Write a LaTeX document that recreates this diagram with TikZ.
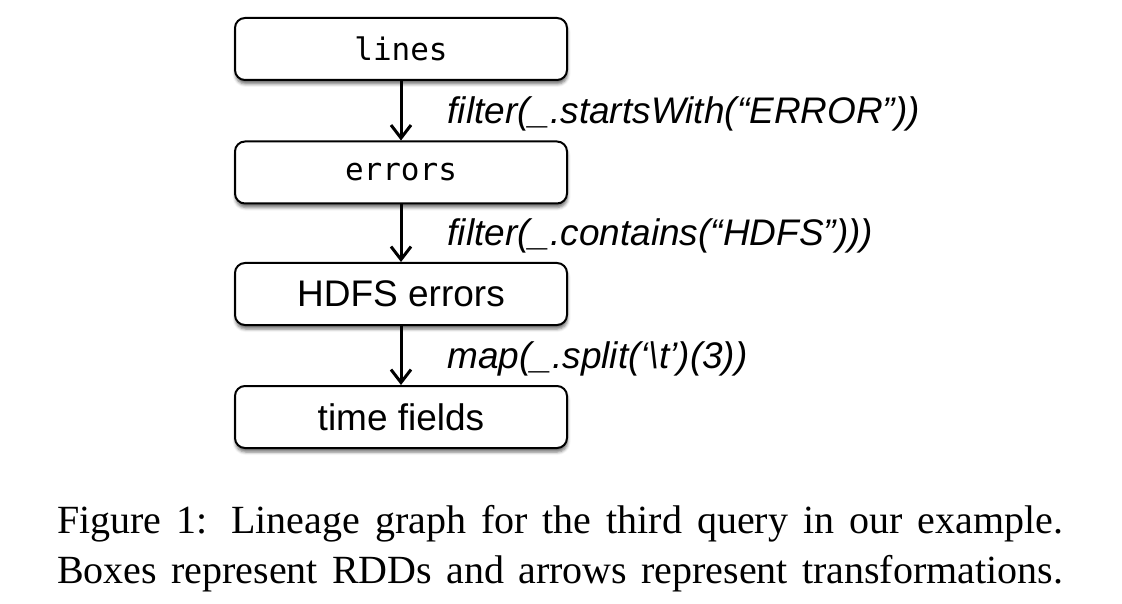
\documentclass[tikz,border=0pt]{standalone}
\usepackage{fontspec}
\setmainfont{Liberation Serif}
\setsansfont{Liberation Sans}
\setmonofont{DejaVu Sans Mono}
\usetikzlibrary{arrows.meta,shadows.blur}

\begin{document}
\begin{tikzpicture}[x=1pt,y=-1pt,
  rdd/.style={draw=black,line width=2pt,rounded corners=10pt,fill=white,minimum width=332pt,minimum height=62pt,inner sep=0pt,font=\sffamily\fontsize{37}{44}\selectfont,
    blur shadow={shadow xshift=0.5pt,shadow yshift=-4pt,shadow blur radius=3pt,shadow opacity=55}},
  code/.style={font=\ttfamily\fontsize{31}{36}\selectfont},
  flow/.style={line width=3pt,-{Straight Barb[length=13pt,width=20pt]}},
  op/.style={anchor=west,xshift=45pt,yshift=-3pt,inner sep=0pt,font=\sffamily\itshape\fontsize{37}{44}\selectfont},
  captext/.style={anchor=base west,inner sep=0pt,font=\rmfamily\fontsize{40}{50}\selectfont}]
  \useasboundingbox (0,0) rectangle (1122,604);
  \node[rdd,code] (lines) at (401,49) {lines};
  \node[rdd,code] (errors) at (401,172.5) {errors};
  \node[rdd] (hdfs) at (401,294) {HDFS errors};
  \node[rdd] (times) at (401,417) {time fields};
  \draw[flow] (lines) -- node[op] (f1) {filter(\_.startsWith(“ERROR”))} (errors);
  \draw[flow] (errors) -- node[op] (f2) {filter(\_.contains(“HDFS”)))} (hdfs);
  \draw[flow] (hdfs) -- node[op] (f3) {map(\_.split(‘\textbackslash t’)(3))} (times);
  \node[captext] (cap1) at (57,533) {\makebox[1006pt][s]{Figure 1: Lineage graph for the third query in our example.}};
  \node[captext] (cap2) at (57,583) {\makebox[1006pt][s]{Boxes represent RDDs and arrows represent transformations.}};
\end{tikzpicture}
\end{document}
